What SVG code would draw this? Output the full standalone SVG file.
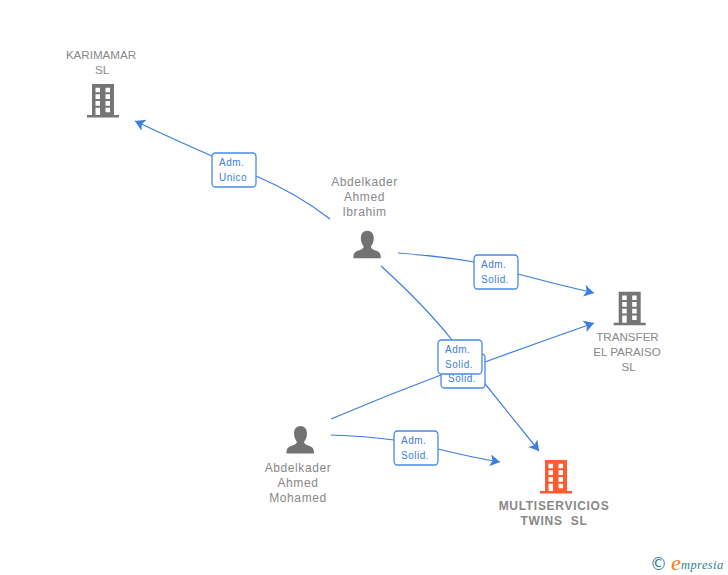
<svg xmlns="http://www.w3.org/2000/svg" width="728" height="575" viewBox="0 0 728 575">
<style>
.n{font-family:"Liberation Sans",Arial,sans-serif;font-size:12px;fill:#888;text-anchor:middle;letter-spacing:.6px}
.u{font-size:11.600px;letter-spacing:0}
.b{font-weight:bold;font-size:12px;letter-spacing:.7px}
.l{font-family:"Liberation Sans",Arial,sans-serif;font-size:10px;fill:#3b7ddd;letter-spacing:.5px}
.c{fill:none;stroke:#3b7ddd;stroke-width:1.200}
.box{fill:#fff;stroke:#4a8ae6;stroke-width:1.300}
</style>
<defs>
<marker id="a" markerUnits="userSpaceOnUse" markerWidth="13" markerHeight="13" refX="10" refY="6" orient="auto"><path d="M0 0L10 6L0 12L2.500 6Z" fill="#3b7ddd"/></marker>
<g id="bld"><path fill-rule="evenodd" d="M5 0H27V31H32V33.500H0V31H5ZM8.500 3.700V8.300H13V3.700ZM18.500 3.700V8.300H23V3.700ZM8.500 10.300V15H13V10.300ZM18.500 10.300V15H23V10.300ZM8.500 17V21.700H13V17ZM18.500 17V21.700H23V17ZM8.500 23.700V31H13V23.700ZM18.500 23.700V28.300H23V23.700Z"/></g>
<path id="per" d="M14 0C18 0 20.500 3 20.500 7.500C20.500 11 19 14 17.500 16C17.800 18 20 19 23 20C26 21 27.500 22.500 27.500 27.500H0C0 22.500 1.500 21 4.500 20C7.500 19 10 18 10.500 16C9 14 7.500 11 7.500 7.500C7.500 3 10 0 14 0Z" fill="#727272"/>
</defs>
<g id="connectors">
<path class="c" marker-end="url(#a)" d="M330 219Q298 194 256 176M212 156Q175 140 135 121"/>
<path class="c" marker-end="url(#a)" d="M398 253Q440 256 474 262M518 274Q555 284 594 293"/>
<path class="c" marker-end="url(#a)" d="M381 266Q425 306 452 340M482 380Q510 415 539 451"/>
<path class="c" marker-end="url(#a)" d="M331 419Q385 396 441 375M485 362Q540 342 594 323"/>
<path class="c" marker-end="url(#a)" d="M331 435Q365 436 394 440M438 449Q470 457 500 462"/>
</g>
<g id="n1"><use href="#bld" x="87" y="84" fill="#757575"/><text class="n u" x="101" y="59">KARIMAMAR</text><text class="n u" x="102" y="74">SL</text></g>
<g id="n2"><use href="#per" x="353.300" y="230.700"/><text class="n" x="364.500" y="186">Abdelkader</text><text class="n" x="364.500" y="201">Ahmed</text><text class="n" x="364.500" y="216">Ibrahim</text></g>
<g id="n3"><use href="#bld" x="613.700" y="291.700" fill="#757575"/><text class="n u" x="627.500" y="341">TRANSFER</text><text class="n u" x="627" y="356">EL PARAISO</text><text class="n u" x="628.500" y="371">SL</text></g>
<g id="n4"><use href="#per" x="286.500" y="426"/><text class="n" x="298" y="472">Abdelkader</text><text class="n" x="298" y="487">Ahmed</text><text class="n" x="298" y="502">Mohamed</text></g>
<g id="n5"><use href="#bld" x="540" y="460" fill="#ff5a30"/><text class="n b" x="554" y="510">MULTISERVICIOS</text><text class="n b" x="554" y="525">TWINS&#160; SL</text></g>
<g id="e1"><rect class="box" x="212" y="153" width="44" height="34" rx="3.500"/><text class="l" x="219" y="166">Adm.</text><text class="l" x="219" y="181">Unico</text></g>
<g id="e2"><rect class="box" x="474" y="255" width="44" height="34" rx="3.500"/><text class="l" x="481" y="268">Adm.</text><text class="l" x="481" y="283">Solid.</text></g>
<g id="e3"><rect class="box" x="441" y="354" width="44" height="34" rx="3.500"/><text class="l" x="448" y="382">Solid.</text></g>
<g id="e4"><rect class="box" x="438" y="340" width="44" height="34" rx="3.500"/><text class="l" x="445" y="353">Adm.</text><text class="l" x="445" y="368">Solid.</text></g>
<g id="e5"><rect class="box" x="394" y="431" width="44" height="34" rx="3.500"/><text class="l" x="401" y="444">Adm.</text><text class="l" x="401" y="459">Solid.</text></g>
<g id="logo"><text x="650" y="570" font-family="'DejaVu Sans',sans-serif" font-size="17" fill="#2f7f8f">©</text><text x="671" y="570" font-family="'Liberation Serif',serif" font-style="italic" font-size="22" fill="#f07c13">e</text><text x="681" y="569" font-family="'Liberation Serif',serif" font-style="italic" font-size="12.500" letter-spacing=".4" fill="#2f7f8f">mpresia</text></g>
</svg>
